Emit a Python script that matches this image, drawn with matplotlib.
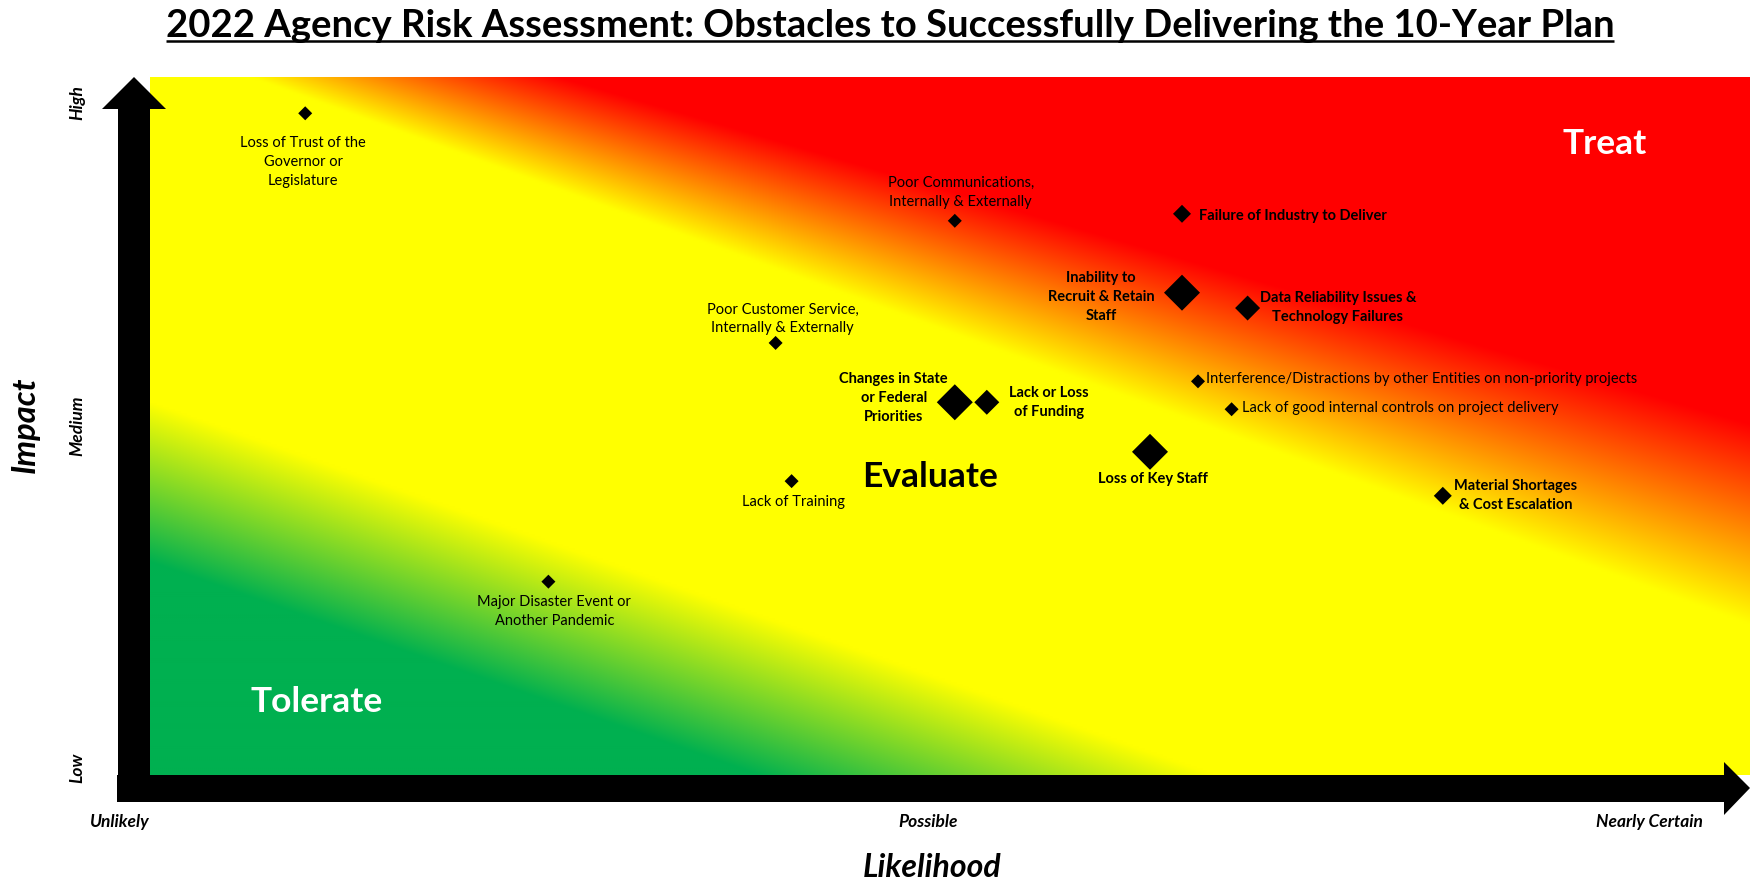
import matplotlib
matplotlib.use("Agg")
import matplotlib.pyplot as plt
import numpy as np
from matplotlib.patches import Polygon

plt.rcParams['font.family'] = ['Lato', 'DejaVu Sans']

TITLE = "2022 Agency Risk Assessment: Obstacles to Successfully Delivering the 10-Year Plan"

# risks on a 0-10 likelihood / impact scale, rank = marker size class (1 small .. 4 large)
risks = ["Loss of Trust of the\nGovernor or\nLegislature",
         "Poor Communications,\nInternally & Externally",
         "Failure of Industry to Deliver",
         "Inability to\nRecruit & Retain\nStaff",
         "Data Reliability Issues &\nTechnology Failures",
         "Poor Customer Service,\nInternally & Externally",
         "Changes in State\nor Federal\nPriorities",
         "Lack or Loss\nof Funding",
         "Lack of Training",
         "Interference/Distractions by other Entities on non-priority projects",
         "Lack of good internal controls on project delivery",
         "Loss of Key Staff",
         "Material Shortages\n& Cost Escalation",
         "Major Disaster Event or\nAnother Pandemic"]
likelihood = [0.97, 5.03, 6.45, 6.45, 6.86, 3.91, 5.03, 5.23, 4.01, 6.55, 6.76, 6.25, 8.08, 2.49]
impact = [9.48, 7.94, 8.04, 6.91, 6.69, 6.19, 5.34, 5.34, 4.21, 5.64, 5.24, 4.63, 4.00, 2.77]
rank = [1, 1, 2, 4, 3, 1, 4, 3, 1, 1, 1, 4, 2, 1]

x_ticks = [-0.19, 4.86, 9.37]
x_tick_labels = ["Unlikely", "Possible", "Nearly Certain"]
y_ticks = [0.11, 5.01, 9.64]
y_tick_labels = ["Low", "Medium", "High"]

zones = ["Tolerate", "Evaluate", "Treat"]
zone_x = [1.04, 4.875, 9.094]
zone_y = [0.90, 4.13, 8.90]

# label placement: offset from the marker in pixels and horizontal alignment
label_offsets = [(-2, -49, 'center'), (6, 28, 'center'), (17, -2, 'left'),
                 (-81, -4, 'center'), (12, 1, 'left'), (7, 24, 'center'),
                 (-61, 4, 'center'), (22, 0, 'left'), (2, -21, 'center'),
                 (8, 2, 'left'), (10, 1, 'left'), (3, -27, 'center'),
                 (11, 0, 'left'), (6, -30, 'center')]

W, H = 1750, 880
# plot area in pixels (left, top, right, bottom)
PL, PT, PR, PB = 150, 77, 1750, 775
marker_px = {1: 14, 2: 18, 3: 25, 4: 36}


def fx(x):
    return x / W


def fy(y):
    #pixel row from the top -> figure fraction
    return 1 - y / H


def draw_background(ax):
    #diagonal green -> yellow -> red fill, worked out in plot pixels
    green = np.array([0, 176, 80]) / 255
    yellow = np.array([1.0, 1.0, 0.0])
    red = np.array([1.0, 0.0, 0.0])
    pw, ph = PR - PL, PB - PT
    u, v = np.meshgrid(np.linspace(0, pw, 800), np.linspace(0, ph, 350))
    g = np.clip((0.35 * u + v - 212) / 160, 0, 1)
    yellow_line = ph - 0.365 * (u - 100)
    red_line = ph - 0.291 * (u - 408)
    f = np.clip((v - yellow_line) / (red_line - yellow_line), 0, 1)
    base = green * (1 - g[..., None]) + yellow * g[..., None]
    rgb = base * (1 - f[..., None]) + red * f[..., None]
    ax.imshow(rgb, extent=[0, 10, 0, 10], origin='lower', aspect='auto',
              interpolation='bilinear', zorder=0)


def draw_arrows(over):
    up = [(118, 802), (118, 109), (102, 109), (134, 77), (166, 109),
          (150, 109), (150, 802)]
    right = [(117, 775), (1724, 775), (1724, 762), (1750, 788), (1724, 815),
             (1724, 802), (117, 802)]
    for pts in (up, right):
        over.add_patch(Polygon(pts, closed=True, color='black', lw=0))


def main():
    fig = plt.figure(figsize=(W / 100, H / 100), dpi=100)
    ax = fig.add_axes([fx(PL), fy(PB), fx(PR - PL), (PB - PT) / H])
    ax.set_xlim(0, 10)
    ax.set_ylim(0, 10)
    ax.axis('off')
    draw_background(ax)

    sizes = [(marker_px[r] / 1.964) ** 2 for r in rank]
    ax.scatter(likelihood, impact, s=sizes, marker='D', color='black',
               linewidths=0, zorder=3)

    for i in range(len(risks)):
        dx, dy, ha = label_offsets[i]
        bold = rank[i] > 1
        ax.annotate(risks[i], (likelihood[i], impact[i]), xytext=(dx, dy),
                    textcoords='offset pixels', ha=ha, va='center',
                    multialignment='center', linespacing=1.45,
                    fontsize=10.5, fontweight='bold' if bold else 'normal',
                    color='black', zorder=4)

    for i in range(len(zones)):
        ax.text(zone_x[i], zone_y[i], zones[i], ha='center', va='baseline',
                fontsize=25.5, fontweight='bold',
                color='black' if zones[i] == "Evaluate" else 'white', zorder=4)

    #category labels along the axes
    for i in range(len(x_ticks)):
        ax.text(x_ticks[i], -0.745, x_tick_labels[i], ha='center',
                va='baseline', fontsize=12.5, fontweight='bold',
                style='italic', clip_on=False)
    for i in range(len(y_ticks)):
        ax.text(-0.456, y_ticks[i], y_tick_labels[i], ha='center',
                va='center', rotation=90, fontsize=12.5, fontweight='bold',
                style='italic', clip_on=False)

    fig.text(fx(932), fy(877), "Likelihood", ha='center', va='baseline',
             fontsize=23, fontweight='bold', style='italic')
    fig.text(fx(25), fy(425), "Impact", ha='center', va='center',
             rotation=90, fontsize=23.5, fontweight='bold', style='italic')

    title = fig.text(fx(890), fy(37), TITLE, ha='center', va='baseline',
                     fontsize=27.5, fontweight='bold')

    over = fig.add_axes([0, 0, 1, 1])
    over.set_xlim(0, W)
    over.set_ylim(H, 0)
    over.axis('off')
    draw_arrows(over)

    #underline the title
    fig.canvas.draw()
    bb = title.get_window_extent()
    over.plot([bb.x0, bb.x1], [41, 41], color='black', lw=1.8,
              solid_capstyle='butt')

    fig.savefig('out.png', dpi=100)


if __name__ == "__main__":
    main()
